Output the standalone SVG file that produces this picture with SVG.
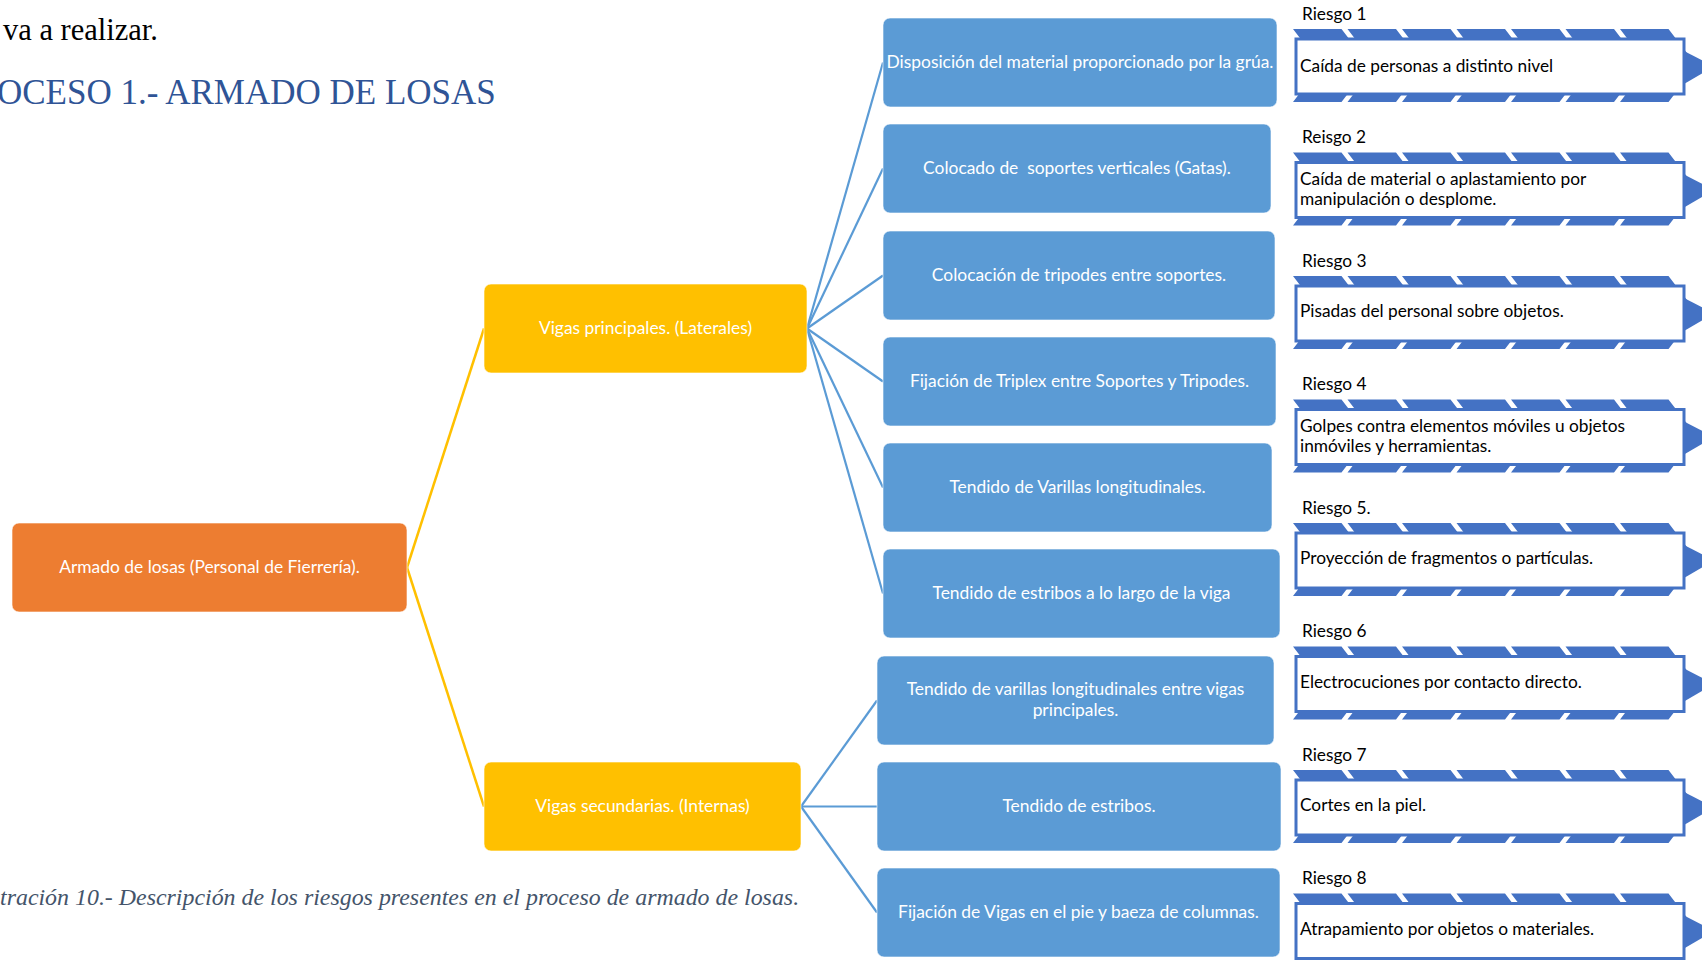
<svg xmlns="http://www.w3.org/2000/svg" xmlns:xlink="http://www.w3.org/1999/xlink" width="1702" height="960" viewBox="0 0 1702 960">
<style>
.body{font-family:"Liberation Serif","Times New Roman",serif;fill:#000;font-size:30.5px}
.title{font-family:"Liberation Serif","Times New Roman",serif;fill:#2F5496;font-size:35px}
.cap{font-family:"Liberation Serif","Times New Roman",serif;fill:#44546A;font-size:23.9px;font-style:italic}
.nt{font-family:Lato,"Noto Sans",sans-serif;font-size:17.4px;fill:#fff;text-anchor:middle}
.rt{font-family:Lato,"Noto Sans",sans-serif;font-size:17.3px;fill:#000}
.blue{fill:#5B9BD5;stroke:#fff;stroke-opacity:.6;stroke-width:1}
.yel{fill:#FFC000;stroke:#fff;stroke-opacity:.6;stroke-width:1}
.org{fill:#ED7D31;stroke:#fff;stroke-opacity:.6;stroke-width:1}
.cy{stroke:#FFC000;stroke-width:2.5;fill:none}
.cb{stroke:#5B9BD5;stroke-width:2.2;fill:none}
.chev{fill:#4472C4}
</style>
<defs>
<g id="riskShape">
<polygon class="chev" points="1293,0 1341.5,0 1369.5,36.5 1341.5,73 1293,73 1321,36.5"/>
<polygon class="chev" points="1347.5,0 1396,0 1424,36.5 1396,73 1347.5,73 1375.5,36.5"/>
<polygon class="chev" points="1402,0 1450.5,0 1478.5,36.5 1450.5,73 1402,73 1430,36.5"/>
<polygon class="chev" points="1456.5,0 1505,0 1533,36.5 1505,73 1456.5,73 1484.5,36.5"/>
<polygon class="chev" points="1511,0 1559.5,0 1587.5,36.5 1559.5,73 1511,73 1539,36.5"/>
<polygon class="chev" points="1565.5,0 1614,0 1642,36.5 1614,73 1565.5,73 1593.5,36.5"/>
<polygon class="chev" points="1620,0 1668.5,0 1696.5,36.5 1668.5,73 1620,73 1648,36.5"/>
<polygon class="chev" points="1684,22 1714,37.5 1684,55"/>
<rect x="1296" y="10" width="388" height="55" fill="#fff" stroke="#4472C4" stroke-width="3"/>
</g>
</defs>

<text class="body" x="3" y="40">va a realizar.</text>
<text class="title" x="-3" y="104">OCESO 1.- ARMADO DE LOSAS</text>
<text class="cap" x="0" y="905">tración 10.- Descripción de los riesgos presentes en el proceso de armado de losas.</text>

<g id="connectors">
<line class="cy" x1="407" y1="567.5" x2="484" y2="328.5"/>
<line class="cy" x1="407" y1="567.5" x2="484" y2="806.5"/>
<line class="cb" x1="807" y1="328.5" x2="883" y2="62.5"/>
<line class="cb" x1="807" y1="328.5" x2="883" y2="168.5"/>
<line class="cb" x1="807" y1="328.5" x2="883" y2="275.5"/>
<line class="cb" x1="807" y1="328.5" x2="883" y2="381.5"/>
<line class="cb" x1="807" y1="328.5" x2="883" y2="487.5"/>
<line class="cb" x1="807" y1="328.5" x2="883" y2="593.5"/>
<line class="cb" x1="801" y1="806.5" x2="877" y2="700.5"/>
<line class="cb" x1="801" y1="806.5" x2="877" y2="806.5"/>
<line class="cb" x1="801" y1="806.5" x2="877" y2="912.5"/>
</g>

<g id="root"><rect class="org" x="12" y="523" width="395" height="89" rx="7"/><text class="nt" x="209.5" y="573">Armado de losas (Personal de Fierrería).</text></g>
<g id="vigas-principales"><rect class="yel" x="484" y="284" width="323" height="89" rx="7"/><text class="nt" x="645.5" y="334">Vigas principales. (Laterales)</text></g>
<g id="vigas-secundarias"><rect class="yel" x="484" y="762" width="317" height="89" rx="7"/><text class="nt" x="642.5" y="812">Vigas secundarias. (Internas)</text></g>

<g id="task1"><rect class="blue" x="883" y="18" width="394" height="89" rx="7"/><text class="nt" x="1080" y="68">Disposición del material proporcionado por la grúa.</text></g>
<g id="task2"><rect class="blue" x="883" y="124" width="388" height="89" rx="7"/><text class="nt" x="1077" y="174" xml:space="preserve">Colocado de  soportes verticales (Gatas).</text></g>
<g id="task3"><rect class="blue" x="883" y="231" width="392" height="89" rx="7"/><text class="nt" x="1079" y="281">Colocación de tripodes entre soportes.</text></g>
<g id="task4"><rect class="blue" x="883" y="337" width="393" height="89" rx="7"/><text class="nt" x="1079.5" y="387">Fijación de Triplex entre Soportes y Tripodes.</text></g>
<g id="task5"><rect class="blue" x="883" y="443" width="389" height="89" rx="7"/><text class="nt" x="1077.5" y="493">Tendido de Varillas longitudinales.</text></g>
<g id="task6"><rect class="blue" x="883" y="549" width="397" height="89" rx="7"/><text class="nt" x="1081.5" y="599">Tendido de estribos a lo largo de la viga</text></g>
<g id="task7"><rect class="blue" x="877" y="656" width="397" height="89" rx="7"/><text class="nt" x="1075.5" y="695">Tendido de varillas longitudinales entre vigas</text><text class="nt" x="1075.5" y="716">principales.</text></g>
<g id="task8"><rect class="blue" x="877" y="762" width="404" height="89" rx="7"/><text class="nt" x="1079" y="812">Tendido de estribos.</text></g>
<g id="task9"><rect class="blue" x="877" y="868" width="403" height="89" rx="7"/><text class="nt" x="1078.5" y="918">Fijación de Vigas en el pie y baeza de columnas.</text></g>

<g id="riesgo1"><text class="rt" x="1302" y="20">Riesgo 1</text><use xlink:href="#riskShape" y="29"/><text class="rt" x="1300" y="72">Caída de personas a distinto nivel</text></g>
<g id="riesgo2"><text class="rt" x="1302" y="143">Reisgo 2</text><use xlink:href="#riskShape" y="152.5"/><text class="rt" x="1300" y="185">Caída de material o aplastamiento por</text><text class="rt" x="1300" y="205">manipulación o desplome.</text></g>
<g id="riesgo3"><text class="rt" x="1302" y="267">Riesgo 3</text><use xlink:href="#riskShape" y="276"/><text class="rt" x="1300" y="317">Pisadas del personal sobre objetos.</text></g>
<g id="riesgo4"><text class="rt" x="1302" y="390">Riesgo 4</text><use xlink:href="#riskShape" y="399.5"/><text class="rt" x="1300" y="432">Golpes contra elementos móviles u objetos</text><text class="rt" x="1300" y="452">inmóviles y herramientas.</text></g>
<g id="riesgo5"><text class="rt" x="1302" y="514">Riesgo 5.</text><use xlink:href="#riskShape" y="523"/><text class="rt" x="1300" y="564">Proyección de fragmentos o partículas.</text></g>
<g id="riesgo6"><text class="rt" x="1302" y="637">Riesgo 6</text><use xlink:href="#riskShape" y="646.5"/><text class="rt" x="1300" y="688">Electrocuciones por contacto directo.</text></g>
<g id="riesgo7"><text class="rt" x="1302" y="761">Riesgo 7</text><use xlink:href="#riskShape" y="770"/><text class="rt" x="1300" y="811">Cortes en la piel.</text></g>
<g id="riesgo8"><text class="rt" x="1302" y="884">Riesgo 8</text><use xlink:href="#riskShape" y="893.5"/><text class="rt" x="1300" y="935">Atrapamiento por objetos o materiales.</text></g>
</svg>
